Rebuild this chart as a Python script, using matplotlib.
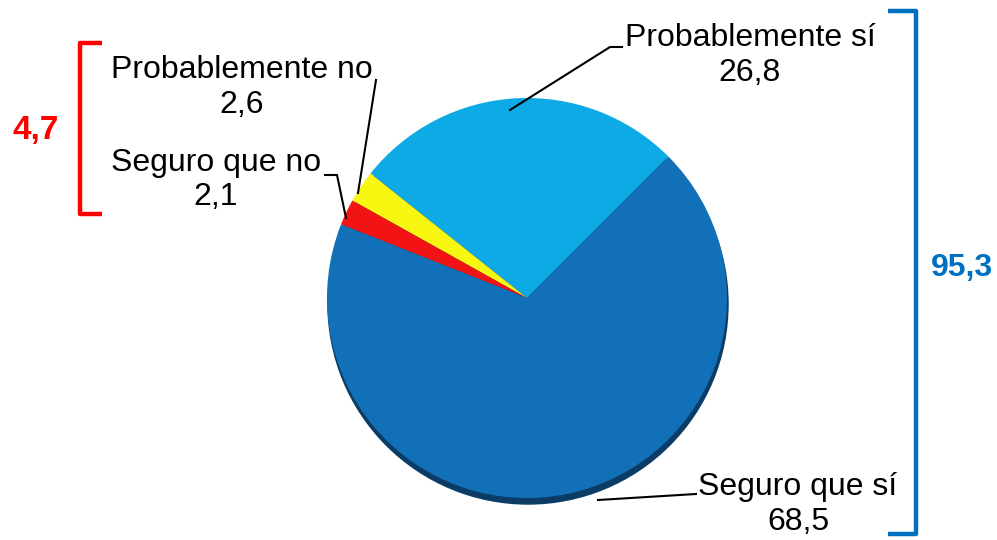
import matplotlib.pyplot as plt
from matplotlib.patches import Circle

plt.rcParams['font.family'] = ['Liberation Sans', 'DejaVu Sans']

# order as drawn counterclockwise from the upper right
categories = ['Probablemente sí', 'Probablemente no', 'Seguro que no', 'Seguro que sí']
values = [26.8, 2.6, 2.1, 68.5]
value_labels = ['26,8', '2,6', '2,1', '68,5']
colors = ['#0eaae6', '#f7f712', '#f21414', '#1270b8']
group_no = '4,7'
group_si = '95,3'

W, H = 997, 540
fig = plt.figure(figsize=(W / 100, H / 100), dpi=100)
ax = fig.add_axes([0, 0, 1, 1])

cx, cy, r = 527, H - 298, 200

# shadow below the pie
ax.add_patch(Circle((cx + 1, cy - 6), r, color='#0b3c66', zorder=1))

ax.pie(values, colors=colors, startangle=45, counterclock=True,
       center=(cx, cy), radius=r, frame=True,
       wedgeprops=dict(linewidth=0, zorder=2))
ax.set_xlim(0, W)
ax.set_ylim(0, H)
ax.set_aspect('equal')
ax.axis('off')

fs = 23
lc = dict(color='black', lw=1.5, zorder=3)

# Probablemente sí
ax.plot([510, 610, 622], [H - 110, H - 47, H - 47], **lc)
ax.text(750, H - 38, categories[0], ha='center', va='center', fontsize=fs)
ax.text(750, H - 73, value_labels[0], ha='center', va='center', fontsize=fs)

# Probablemente no
ax.plot([358, 376], [H - 193, H - 80], **lc)
ax.text(242, H - 70, categories[1], ha='center', va='center', fontsize=fs)
ax.text(242, H - 105, value_labels[1], ha='center', va='center', fontsize=fs)

# Seguro que no
ax.plot([346, 337, 325], [H - 218, H - 175, H - 175], **lc)
ax.text(216, H - 163, categories[2], ha='center', va='center', fontsize=fs)
ax.text(216, H - 197, value_labels[2], ha='center', va='center', fontsize=fs)

# Seguro que sí
ax.plot([598, 696], [H - 500, H - 494], **lc)
ax.text(798, H - 487, categories[3], ha='center', va='center', fontsize=fs)
ax.text(798, H - 522, value_labels[3], ha='center', va='center', fontsize=fs)

# brackets
ax.plot([102, 80, 80, 102], [H - 43, H - 43, H - 214, H - 214],
        color='#ff0000', lw=3.2, solid_joinstyle='round', solid_capstyle='butt')
ax.text(36, H - 130, group_no, ha='center', va='center', fontsize=24,
        color='#ff0000', fontweight='bold')

ax.plot([888, 916, 916, 888], [H - 11, H - 11, H - 534, H - 534],
        color='#0070c0', lw=3.2, solid_joinstyle='round', solid_capstyle='butt')
ax.text(962, H - 268, group_si, ha='center', va='center', fontsize=23,
        color='#0070c0', fontweight='bold')

fig.savefig('out.png', dpi=100)
